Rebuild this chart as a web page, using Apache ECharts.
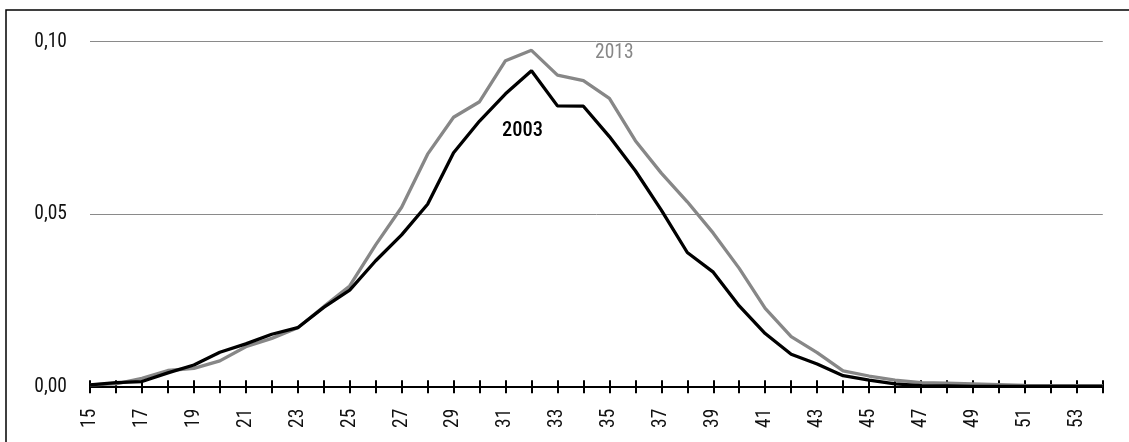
<!DOCTYPE html>
<html>
<head>
<meta charset="utf-8">
<script src="https://cdn.jsdelivr.net/npm/echarts@6/dist/echarts.min.js"></script>
<style>
  html, body { margin: 0; padding: 0; background: #fff; }
  #chart { width: 1129px; height: 442px; }
</style>
</head>
<body>
<div id="chart"></div>
<script>
// Ages (categories)
const ages = [];
for (let a = 15; a <= 54; a++) ages.push(String(a));

// Values
const values2003 = [
  0.0005, 0.0012, 0.0015, 0.0040, 0.0063, 0.0100, 0.0124, 0.0152, 0.0171, 0.0230,
  0.0280, 0.0365, 0.0440, 0.0529, 0.0678, 0.0770, 0.0849, 0.0916, 0.0814, 0.0813,
  0.0725, 0.0626, 0.0512, 0.0389, 0.0332, 0.0234, 0.0154, 0.0094, 0.0066, 0.0032,
  0.0019, 0.0008, 0.0003, 0.0002, 0.0001, 0.0001, 0.0001, 0.0001, 0.0001, 0.0001
];
const values2013 = [
  0.0005, 0.0008, 0.0024, 0.0047, 0.0053, 0.0075, 0.0116, 0.0140, 0.0171, 0.0232,
  0.0292, 0.0411, 0.0520, 0.0674, 0.0781, 0.0826, 0.0945, 0.0975, 0.0903, 0.0887,
  0.0836, 0.0713, 0.0619, 0.0536, 0.0445, 0.0343, 0.0227, 0.0145, 0.0099, 0.0046,
  0.0031, 0.0019, 0.0012, 0.0010, 0.0008, 0.0006, 0.0004, 0.0003, 0.0003, 0.0003
];
const yTicks = [0, 0.05, 0.10];
const seriesNames = ['2003', '2013'];

const FONT = '"Roboto Condensed", "DejaVu Sans Condensed", sans-serif';

const chart = echarts.init(document.getElementById('chart'), null, { renderer: 'canvas' });
chart.setOption({
  animation: false,
  backgroundColor: '#ffffff',
  grid: { left: 90, right: 26.2, top: 41.7, bottom: 55.3, containLabel: false },
  xAxis: [
    {
      type: 'category',
      data: ages,
      boundaryGap: false,
      axisLine: { show: true, lineStyle: { color: '#000', width: 2 } },
      axisTick: { show: true, interval: 0, length: 6.5, lineStyle: { color: '#000', width: 2 } },
      axisLabel: {
        interval: 1, rotate: 90, margin: 22,
        fontFamily: FONT, fontWeight: 400, fontSize: 19.5, color: '#111'
      },
      splitLine: { show: false }
    },
    {
      type: 'category',
      data: ages,
      boundaryGap: false,
      position: 'bottom',
      axisLine: { show: false },
      axisTick: { show: true, inside: true, interval: 0, length: 6.5, lineStyle: { color: '#000', width: 2 } },
      axisLabel: { show: false },
      splitLine: { show: false }
    }
  ],
  yAxis: {
    type: 'value',
    min: yTicks[0],
    max: yTicks[yTicks.length - 1],
    interval: 0.05,
    axisLine: { show: false },
    axisTick: { show: false },
    axisLabel: {
      margin: 23,
      fontFamily: FONT, fontWeight: 400, fontSize: 19.5, color: '#111',
      formatter: v => v.toFixed(2).replace('.', ',')
    },
    splitLine: { show: true, lineStyle: { color: '#8a8a8a', width: 1 } }
  },
  series: [
    {
      name: seriesNames[1], type: 'line', data: values2013, xAxisIndex: 0,
      symbol: 'none', lineStyle: { color: '#878787', width: 3.3 }, z: 3
    },
    {
      name: seriesNames[0], type: 'line', data: values2003, xAxisIndex: 0,
      symbol: 'none', lineStyle: { color: '#000000', width: 3.3 }, z: 4
    }
  ],
  graphic: [
    {
      type: 'rect', silent: true, z: 0,
      shape: { x: 6, y: 10, width: 1200, height: 600 },
      style: { fill: 'none', stroke: '#000', lineWidth: 1.5 }
    },
    {
      type: 'text', x: 595, y: 53, z: 10,
      style: { text: seriesNames[1], fill: '#878787', font: 'normal 400 19.5px ' + FONT, textVerticalAlign: 'middle' }
    },
    {
      type: 'text', x: 502, y: 131, z: 10,
      style: { text: seriesNames[0], fill: '#000', font: 'normal 500 20.5px ' + FONT, textVerticalAlign: 'middle' }
    }
  ]
});
</script>
</body>
</html>
